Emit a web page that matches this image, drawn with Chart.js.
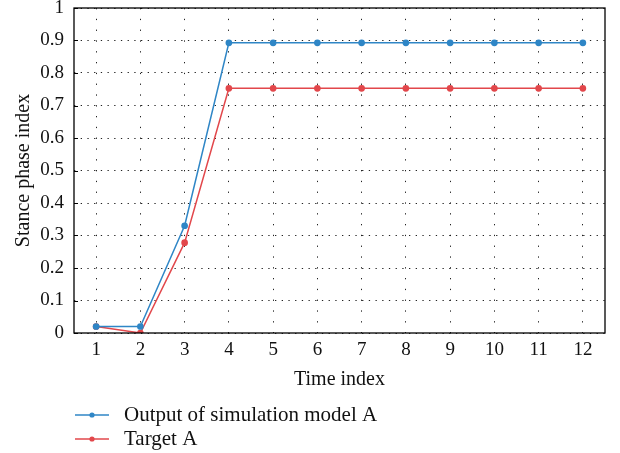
<!DOCTYPE html>
<html>
<head>
<meta charset="utf-8">
<script src="https://cdn.jsdelivr.net/npm/chart.js@4/dist/chart.umd.min.js"></script>
<style>
  html, body { margin: 0; padding: 0; background: #fff; }
  #wrap { width: 620px; height: 453px; position: relative; }
</style>
</head>
<body>
<div id="wrap"><canvas id="stanceChart"></canvas></div>
<script>
// Time index categories (x-axis)
const timeLabels = ['1', '2', '3', '4', '5', '6', '7', '8', '9', '10', '11', '12'];
// Stance phase index values
const modelOutput = [0.02, 0.02, 0.33, 0.893, 0.893, 0.893, 0.893, 0.893, 0.893, 0.893, 0.893, 0.893];
const targetValues = [0.02, 0.0, 0.278, 0.753, 0.753, 0.753, 0.753, 0.753, 0.753, 0.753, 0.753, 0.753];
const seriesNames = ['Output of simulation model A', 'Target A'];
const yTicks = [0, 0.1, 0.2, 0.3, 0.4, 0.5, 0.6, 0.7, 0.8, 0.9, 1];

const blue = '#2f86c6';
const red = '#e2474b';
const serif = "'Liberation Serif', 'DejaVu Serif', serif";

// Box around the plot area plus small inward ticks on the y axis
const framePlugin = {
    id: 'frame',
    afterDraw(chart) {
        const { ctx, chartArea: a } = chart;
        const yScale = chart.scales.y;
        ctx.save();
        ctx.strokeStyle = '#000';
        ctx.lineWidth = 1.3;
        ctx.strokeRect(a.left, a.top, a.right - a.left, a.bottom - a.top);
        ctx.lineWidth = 1;
        yTicks.forEach(v => {
            const py = Math.round(yScale.getPixelForValue(v)) + 0.5;
            ctx.beginPath();
            ctx.moveTo(a.left, py);
            ctx.lineTo(a.left + 4, py);
            ctx.stroke();
        });
        ctx.restore();
    }
};

// Legend stacked under the axis title, line + dot markers
const legendPlugin = {
    id: 'stackedLegend',
    afterDraw(chart) {
        const { ctx } = chart;
        ctx.save();
        ctx.font = '21px ' + serif;
        ctx.textBaseline = 'middle';
        chart.data.datasets.forEach((ds, i) => {
            const y = 415 + i * 24;
            ctx.strokeStyle = ds.borderColor;
            ctx.lineWidth = 1.5;
            ctx.beginPath();
            ctx.moveTo(75, y);
            ctx.lineTo(109, y);
            ctx.stroke();
            ctx.fillStyle = ds.borderColor;
            ctx.beginPath();
            ctx.arc(92, y, 2.6, 0, Math.PI * 2);
            ctx.fill();
            ctx.fillStyle = '#111';
            ctx.fillText(ds.label, 124, y);
        });
        ctx.restore();
    }
};

document.addEventListener('DOMContentLoaded', function () {
    const ctx = document.getElementById('stanceChart').getContext('2d');
    new Chart(ctx, {
        type: 'line',
        data: {
            labels: timeLabels,
            datasets: [
                {
                    label: seriesNames[0],
                    data: modelOutput,
                    borderColor: blue,
                    backgroundColor: blue,
                    borderWidth: 1.5,
                    pointRadius: 2.6,
                    pointHoverRadius: 2.6,
                    fill: false,
                    tension: 0
                },
                {
                    label: seriesNames[1],
                    data: targetValues,
                    borderColor: red,
                    backgroundColor: red,
                    borderWidth: 1.5,
                    pointRadius: 2.6,
                    pointHoverRadius: 2.6,
                    fill: false,
                    tension: 0
                }
            ]
        },
        options: {
            responsive: true,
            maintainAspectRatio: false,
            animation: false,
            layout: { padding: { top: 8, right: 15, left: 0, bottom: 61 } },
            plugins: {
                legend: { display: false },
                tooltip: { enabled: false }
            },
            scales: {
                x: {
                    type: 'category',
                    offset: true,
                    grid: { offset: false, color: '#222', lineWidth: 1, drawTicks: false },
                    border: { display: false, dash: [1.3, 9.5] },
                    ticks: { color: '#111', font: { family: serif, size: 19 }, padding: 6, maxRotation: 0 },
                    title: {
                        display: true,
                        text: 'Time index',
                        color: '#111',
                        font: { family: serif, size: 20 },
                        padding: { top: 0, bottom: 0 }
                    },
                    afterFit(scale) {
                        scale.height = 59;
                        scale.paddingLeft = 0;
                        scale.paddingRight = 0;
                    }
                },
                y: {
                    min: 0,
                    max: 1,
                    afterBuildTicks(scale) { scale.ticks = yTicks.map(v => ({ value: v })); },
                    grid: { color: '#222', lineWidth: 1, drawTicks: false },
                    border: { display: false, dash: [1.3, 5.4] },
                    ticks: {
                        color: '#111',
                        font: { family: serif, size: 19 },
                        padding: 10,
                        callback: v => String(Number(v.toFixed(1)))
                    },
                    title: {
                        display: true,
                        text: 'Stance phase index',
                        color: '#111',
                        font: { family: serif, size: 20 },
                        padding: { top: 12, bottom: 0 }
                    },
                    afterFit(scale) {
                        scale.width = 74;
                        scale.paddingTop = 0;
                        scale.paddingBottom = 0;
                    }
                }
            }
        },
        plugins: [framePlugin, legendPlugin]
    });
});
</script>
</body>
</html>
